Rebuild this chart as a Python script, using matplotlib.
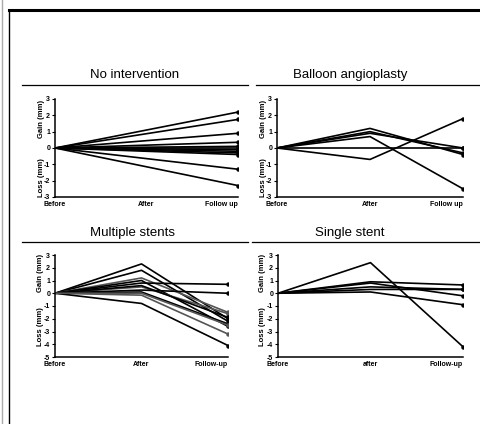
import matplotlib
matplotlib.use("Agg")
import matplotlib.pyplot as plt
from matplotlib.lines import Line2D

plt.rcParams['font.family'] = ['Liberation Sans', 'DejaVu Sans']

stages = ["Before", "After", "Follow up"]
stages_stent = ["Before", "After", "Follow-up"]
stages_single = ["Before", "after", "Follow-up"]

# No intervention: straight lines Before -> Follow up
no_int_followup = [2.2, 1.75, 0.9, 0.35, 0.1, 0.0, -0.1, -0.2, -0.3, -0.4, -1.3, -2.3]

# Balloon angioplasty: (after, follow-up)
balloon_after = [1.2, 0.9, 0.7, -0.7, 0.0, 1.0]
balloon_follow = [-0.4, 0.0, -2.5, 1.8, 0.0, -0.3]

# Multiple stents: (after, follow-up)
multi_after = [2.3, 1.8, 1.2, 1.0, 0.8, 0.5, 0.25, 0.1, -0.15, -0.8, 0.6, 0.0]
multi_follow = [-2.0, -2.2, -1.5, -2.6, 0.7, -1.6, 0.0, -2.4, -3.2, -4.1, -1.9, -2.5]

# Single stent: (after, follow-up)
single_after = [2.4, 0.9, 0.8, 0.5, 0.1, 0.3]
single_follow = [-4.2, 0.65, -0.2, 0.3, -0.9, 0.3]

W, H = 480, 424
fig = plt.figure(figsize=(W / 100, H / 100), dpi=100)


def rect(l, r, t, b):
    return [l / W, 1 - b / H, (r - l) / W, (b - t) / H]


def fx(x):
    return x / W


def fy(y):
    return 1 - y / H


def style(ax, ymin, ymax, labels, gain_y, loss_y, lab_x):
    ax.set_xlim(0, 2.0)
    ax.set_ylim(ymin, ymax)
    ax.spines['top'].set_visible(False)
    ax.spines['right'].set_visible(False)
    ax.spines['left'].set_linewidth(1.1)
    ax.spines['bottom'].set_linewidth(1.1)
    ax.set_yticks(list(range(ymin, ymax + 1)))
    ax.set_yticklabels([str(v) for v in range(ymin, ymax + 1)],
                       fontsize=5, fontweight='bold')
    ax.set_xticks([0, 1, 2])
    ax.set_xticklabels(labels, fontsize=5, fontweight='bold')
    tl = ax.get_xticklabels()
    tl[2].set_ha('right')
    ax.tick_params(axis='y', length=2, width=0.8, pad=1.5)
    ax.tick_params(axis='x', length=0, pad=3)
    tr = ax.get_yaxis_transform()
    ax.text(lab_x, gain_y, "Gain (mm)", rotation=90, transform=tr,
            ha='center', va='center', fontsize=5.5, fontweight='bold')
    ax.text(lab_x, loss_y, "Loss (mm)", rotation=90, transform=tr,
            ha='center', va='center', fontsize=5.5, fontweight='bold')


lw = 1.2
ms = 2.2

# Panel 1
ax1 = fig.add_axes(rect(55, 238, 99, 197))
for v in no_int_followup:
    ax1.plot([0, 2], [0, v], color='black', lw=lw, marker='o', ms=ms,
             markevery=[1])
style(ax1, -3, 3, stages, 1.8, -1.8, -0.075)

# Panel 2
ax2 = fig.add_axes(rect(277, 463, 99, 197))
for a, f in zip(balloon_after, balloon_follow):
    ax2.plot([0, 1, 2], [0, a, f], color='black', lw=lw, marker='o', ms=ms,
             markevery=[2])
style(ax2, -3, 3, stages, 1.8, -1.8, -0.075)

# Panel 3
ax3 = fig.add_axes(rect(55, 228, 255, 357))
for i, (a, f) in enumerate(zip(multi_after, multi_follow)):
    col = 'black' if i % 3 != 2 else '#555555'
    ax3.plot([0, 1, 2], [0, a, f], color=col, lw=lw, marker='o', ms=ms,
             markevery=[2])
style(ax3, -5, 3, stages_stent, 1.6, -2.6, -0.085)

# Panel 4
ax4 = fig.add_axes(rect(278, 463, 255, 357))
for a, f in zip(single_after, single_follow):
    ax4.plot([0, 1, 2], [0, a, f], color='black', lw=lw, marker='o', ms=ms,
             markevery=[2])
style(ax4, -5, 3, stages_single, 1.6, -2.6, -0.085)

# Titles
tfs = 9.5
fig.text(fx(135), fy(75), "No intervention", ha='center', va='center', fontsize=tfs)
fig.text(fx(350), fy(75), "Balloon angioplasty", ha='center', va='center', fontsize=tfs)
fig.text(fx(132), fy(233), "Multiple stents", ha='center', va='center', fontsize=tfs)
fig.text(fx(350), fy(233), "Single stent", ha='center', va='center', fontsize=tfs)

# Rules under titles
for (x0, x1, y) in [(22, 248, 85), (256, 480, 85), (22, 248, 242), (252, 480, 242)]:
    fig.add_artist(Line2D([fx(x0), fx(x1)], [fy(y), fy(y)], color='black',
                          lw=0.9, transform=fig.transFigure))

# Page frame
fig.add_artist(Line2D([fx(9), fx(480)], [fy(10), fy(10)], color='black',
                      lw=2.2, transform=fig.transFigure))
fig.add_artist(Line2D([fx(9), fx(9)], [fy(10), fy(424)], color='black',
                      lw=1.0, transform=fig.transFigure))
fig.add_artist(Line2D([fx(2), fx(2)], [fy(0), fy(424)], color='#aaaaaa',
                      lw=1.0, transform=fig.transFigure))

fig.savefig("out.png", dpi=100)
